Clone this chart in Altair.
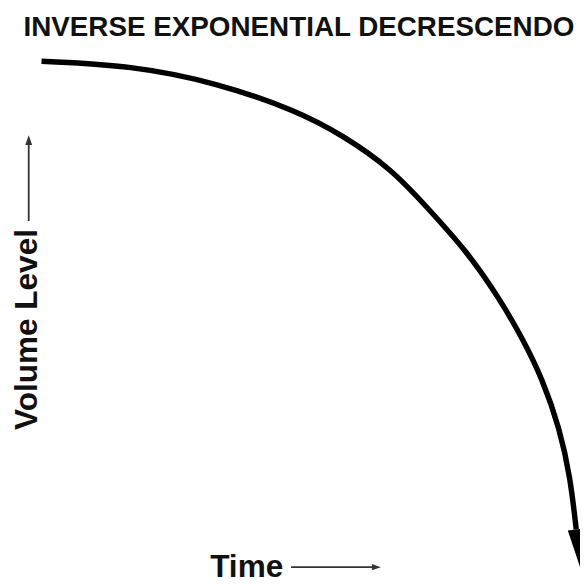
import altair as alt
import pandas as pd

# Curve values (time 0-100, volume 0-100)
time_vals = [0, 16.7, 32.6, 47.3, 55.9, 65.0, 71.6, 78.9, 85.2, 89.4, 93.0, 96.2, 98.2, 99.3]
volume_vals = [100, 99.2, 95.8, 90.4, 85.6, 79.0, 71.5, 63.1, 53.5, 45.8, 38.1, 28.5, 18.9, 8.7]

title_text = "INVERSE EXPONENTIAL DECRESCENDO"
x_label = "Time"
y_label = "Volume Level"

curve = pd.DataFrame({"time": time_vals, "volume": volume_vals})
end_pt = pd.DataFrame({"time": [time_vals[-1]], "volume": [volume_vals[-1]]})

W, H = 580, 578
xs = alt.Scale(domain=[-6.227, 100], nice=False, zero=False)
ys = alt.Scale(domain=[-1.538, 109.615], nice=False, zero=False)

line = alt.Chart(curve).mark_line(
    color="black", strokeWidth=5.5, interpolate="basis", strokeCap="butt"
).encode(
    x=alt.X("time:Q", scale=xs, axis=None),
    y=alt.Y("volume:Q", scale=ys, axis=None),
)

head = alt.Chart(end_pt).mark_point(
    shape="M-0.22,0L0.22,0L0,1Z", filled=True, color="black", opacity=1,
    size=6084, angle=354, strokeWidth=0
).encode(
    x=alt.X("time:Q", scale=xs, axis=None),
    y=alt.Y("volume:Q", scale=ys, axis=None),
)

title = alt.Chart(pd.DataFrame({"t": [title_text]})).mark_text(
    font="Liberation Sans", fontSize=28.2, fontWeight="bold", color="#111",
    align="center", baseline="alphabetic"
).encode(text="t:N", x=alt.value(295), y=alt.value(24))

xlab = alt.Chart(pd.DataFrame({"t": [x_label]})).mark_text(
    font="Liberation Sans", fontSize=32, fontWeight="bold", color="#111",
    align="left", baseline="alphabetic"
).encode(text="t:N", x=alt.value(205), y=alt.value(573))

ylab = alt.Chart(pd.DataFrame({"t": [y_label]})).mark_text(
    font="Liberation Sans", fontSize=32, fontWeight="bold", color="#111",
    align="center", baseline="alphabetic", angle=270
).encode(text="t:N", x=alt.value(29), y=alt.value(322))

one = pd.DataFrame({"a": [0]})
yarrow = alt.Chart(one).mark_rule(color="#333", strokeWidth=1.8).encode(
    x=alt.value(21), y=alt.value(212), y2=alt.value(134)
)
yhead = alt.Chart(one).mark_point(
    shape="M-0.35,0L0.35,0L0,-1Z", filled=True, color="#333", opacity=1, size=400, strokeWidth=0
).encode(x=alt.value(21), y=alt.value(135))

xarrow = alt.Chart(one).mark_rule(color="#333", strokeWidth=1.8).encode(
    x=alt.value(287), x2=alt.value(370), y=alt.value(563)
)
xhead = alt.Chart(one).mark_point(
    shape="M0,-0.35L0,0.35L1,0Z", filled=True, color="#333", opacity=1, size=324, strokeWidth=0
).encode(x=alt.value(369), y=alt.value(563))

chart = alt.layer(line, head, title, xlab, ylab, yarrow, yhead, xarrow, xhead).properties(
    width=W, height=H, padding=0, autosize=alt.AutoSizeParams(type="none"),
    background="white"
).configure_view(stroke=None)

chart.save("out.html", embed_options={"renderer": "svg", "actions": False})
